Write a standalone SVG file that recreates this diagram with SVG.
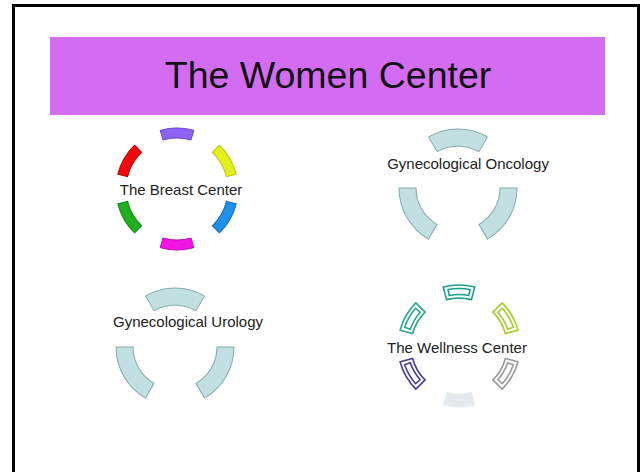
<svg xmlns="http://www.w3.org/2000/svg" width="641" height="472" viewBox="0 0 641 472">
<style>
.lbl{font-family:"Liberation Sans",Arial,sans-serif;font-size:15px;fill:#222;text-anchor:middle}
.title{font-family:"Liberation Sans",Arial,sans-serif;font-size:37.5px;fill:#111;text-anchor:middle}
.gy{fill:#C2E0E1;stroke:#84A9AB;stroke-width:1}
.wl{fill:#fff;stroke-width:1.6}
</style>
<defs>
<path id="seg6" d="M -16.81 -58.64 A 61 61 0 0 1 16.81 -58.64 L 14.06 -49.03 A 51 51 0 0 0 -14.06 -49.03 Z"/>
<path id="seg3" d="M -29.5 -51.09 A 59 59 0 0 1 29.5 -51.09 L 21 -36.37 A 42 42 0 0 0 -21 -36.37 Z"/>
<g id="wseg">
<path d="M -15.79 -58.92 A 61 61 0 0 1 15.79 -58.92 L 12.42 -46.36 A 48 48 0 0 0 -12.42 -46.36 Z"/>
<path d="M -10.97 -56.44 A 57.5 57.5 0 0 1 10.97 -56.44 L 9.83 -50.55 A 51.5 51.5 0 0 0 -9.83 -50.55 Z"/>
</g>
</defs>
<rect x="0" y="0" width="641" height="472" fill="#fff"/>
<rect x="13.5" y="5.5" width="625" height="480" fill="none" stroke="#000" stroke-width="3"/>
<g id="title">
<rect x="50" y="37" width="555" height="78" fill="#D46CF3"/>
<text class="title" x="328" y="88">The Women Center</text>
</g>
<g id="breast" transform="translate(177,189)">
<use href="#seg6" fill="#8B62F2" stroke="#6A46D0"/>
<use href="#seg6" transform="rotate(60)" fill="#E3F019" stroke="#B8C410"/>
<use href="#seg6" transform="rotate(120)" fill="#1D90EC" stroke="#1468B0"/>
<use href="#seg6" transform="rotate(180)" fill="#F215E6" stroke="#C00CB8"/>
<use href="#seg6" transform="rotate(240)" fill="#1EB01E" stroke="#168616"/>
<use href="#seg6" transform="rotate(300)" fill="#F2080B" stroke="#C00508"/>
<text class="lbl" x="4" y="6">The Breast Center</text>
</g>
<g id="oncology" transform="translate(458,188)">
<use href="#seg3" class="gy"/>
<use href="#seg3" class="gy" transform="rotate(120)"/>
<use href="#seg3" class="gy" transform="rotate(240)"/>
<text class="lbl" x="10" y="-19">Gynecological Oncology</text>
</g>
<g id="urology" transform="translate(175,347)">
<use href="#seg3" class="gy"/>
<use href="#seg3" class="gy" transform="rotate(120)"/>
<use href="#seg3" class="gy" transform="rotate(240)"/>
<text class="lbl" x="13" y="-20">Gynecological Urology</text>
</g>
<g id="wellness" transform="translate(459,346)">
<use href="#wseg" class="wl" stroke="#1C9E8C"/>
<use href="#wseg" class="wl" transform="rotate(60)" stroke="#A3CE28"/>
<use href="#wseg" class="wl" transform="rotate(120)" stroke="#9A9A9A"/>
<path d="M -15.79 -58.92 A 61 61 0 0 1 15.79 -58.92 L 12.42 -46.36 A 48 48 0 0 0 -12.42 -46.36 Z" transform="rotate(180)" fill="#E2EAEF" stroke="#EAF0F3"/>
<use href="#wseg" class="wl" transform="rotate(240)" stroke="#4B3F94"/>
<use href="#wseg" class="wl" transform="rotate(300)" stroke="#27A88C"/>
<text class="lbl" x="-2" y="7">The Wellness Center</text>
</g>
</svg>
